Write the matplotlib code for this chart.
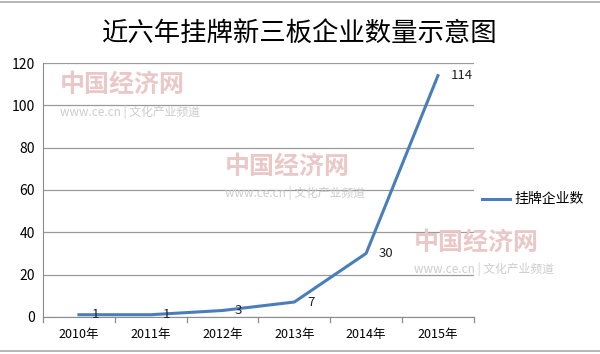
import matplotlib.pyplot as plt
from matplotlib.lines import Line2D

plt.rcParams['font.family'] = ['Noto Sans CJK SC', 'DejaVu Sans']

# data
years = ['2010年', '2011年', '2012年', '2013年', '2014年', '2015年']
counts = [1, 1, 3, 7, 30, 114]
series_name = '挂牌企业数'
title = '近六年挂牌新三板企业数量示意图'

fig = plt.figure(figsize=(6, 3.54), dpi=100)
ax = fig.add_axes([0.0717, 0.105, 0.718, 0.717])

x = range(len(years))
ax.plot(x, counts, color='#4A7EBB', lw=2.2, zorder=3)
for i, v in zip(x, counts):
    ax.annotate(str(v), (i, v), xytext=(9, 0), textcoords='offset points',
                ha='left', va='center', fontsize=9.5, color='#222222', zorder=4)

ax.set_xlim(-0.5, len(years) - 0.5)
ax.set_ylim(0, 120)
ax.set_yticks(range(0, 121, 20))
ax.set_xticks(x)
ax.set_xticklabels(years, fontsize=9)
ax.tick_params(axis='y', labelsize=10, length=0, pad=6)
ax.tick_params(axis='x', length=0, pad=8)
ax.grid(axis='y', color='#9a9a9a', lw=0.9)
ax.set_axisbelow(True)
for s in ['top', 'right']:
    ax.spines[s].set_visible(False)
for s in ['left', 'bottom']:
    ax.spines[s].set_color('#8c8c8c')
# category separators on the x axis
for b in [i - 0.5 for i in range(len(years) + 1)]:
    ax.plot([b, b], [0, -2.5], color='#8c8c8c', lw=0.9, clip_on=False)

# legend
fig.lines.append(Line2D([0.803, 0.85], [0.438, 0.438], color='#4A7EBB', lw=2.2,
                        transform=fig.transFigure))
fig.text(0.857, 0.438, series_name, fontsize=10, va='center', ha='left')

fig.text(0.5, 0.905, title, fontsize=19, ha='center', va='center', weight='medium')

# frame lines top and bottom
fig.lines.append(Line2D([0, 1], [0.995, 0.995], color='#aaaaaa', lw=1.2,
                        transform=fig.transFigure))
fig.lines.append(Line2D([0, 1], [0.008, 0.008], color='#aaaaaa', lw=1.2,
                        transform=fig.transFigure))

# watermarks
for wx, wy in [(0.10, 0.76), (0.375, 0.53), (0.69, 0.315)]:
    fig.text(wx, wy, '中国经济网', fontsize=18, color='#ebc8c8', weight='bold',
             ha='left', va='center', zorder=0)
    fig.text(wx, wy - 0.075, 'www.ce.cn | 文化产业频道', fontsize=8.5,
             color='#cccccc', ha='left', va='center', zorder=0)

fig.savefig('out.png', dpi=100)
